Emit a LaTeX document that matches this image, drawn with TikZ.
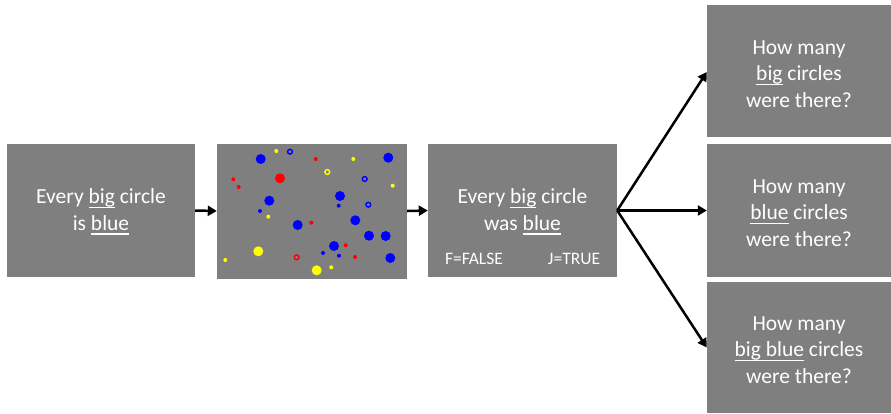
\documentclass[tikz,border=0pt]{standalone}
\usepackage{fontspec}
\setmainfont{Carlito}
\usetikzlibrary{arrows.meta,positioning}
\definecolor{boxgray}{HTML}{7F7F7F}
\definecolor{dotblue}{HTML}{0000FF}
\definecolor{dotred}{HTML}{FF0000}
\definecolor{dotyellow}{HTML}{FFFF00}
\newcommand{\uword}[1]{\setbox0\hbox{#1}\rlap{\rule[-4.5pt]{\wd0}{1.5pt}}\box0\relax}

\begin{document}
\begin{tikzpicture}[x=1pt,y=-1pt,
    panel/.style={shape=rectangle,fill=boxgray,inner sep=0pt},
    words/.style={text=white,inner sep=0pt,align=center,font=\fontsize{21.5}{26.5}\selectfont},
    keys/.style={text=white,inner sep=0pt,anchor=base,font=\fontsize{17.5}{18}\selectfont},
    arr/.style={line width=2.5pt,-{Triangle[length=9pt,width=10pt]}}]

   \useasboundingbox (0,0) rectangle (891,413);

   \node[panel,minimum width=188pt,minimum height=133pt] (1) at (101,210.5) {};
   \node[panel,minimum width=190pt,minimum height=135pt] (2) at (312,211) {};
   \node[panel,minimum width=189pt,minimum height=133pt] (3) at (522.5,210.5) {};
   \node[panel,minimum width=184pt,minimum height=132pt] (4) at (799,71) {};
   \node[panel,minimum width=184pt,minimum height=133pt] (5) at (799,210.5) {};
   \node[panel,minimum width=184pt,minimum height=131pt] (6) at (799,347.5) {};

   \node[words] (t1) at (101,212) {Every \uword{big} circle\\is \uword{blue}};
   \node[words] (t3) at (522.5,212) {Every \uword{big} circle\\was \uword{blue}};
   \node[keys] (f) at (474,264) {F=FALSE};
   \node[keys] (j) at (574,264) {J=TRUE};
   \node[words] (t4) at (799,74) {How many\\\uword{big} circles\\were there?};
   \node[words] (t5) at (799,213) {How many\\\uword{blue} circles\\were there?};
   \node[words] (t6) at (799,350) {How many\\\uword{big blue} circles\\were there?};

   % circles of the display
   \foreach \x/\y in {260.7/159,388.3/157.7,340/196,269.3/200.7,355.3/220.3,297.7/225,369/235.7,385.7/236,334/246,390.3/258}
      \fill[dotblue] (\x,\y) circle (5pt);
   \fill[dotred] (280,178.3) circle (5pt);
   \foreach \x/\y in {258.3/251.3,316.7/270.3}
      \fill[dotyellow] (\x,\y) circle (5pt);
   \foreach \x/\y in {260/211,338.7/205.7,323/253,339/255.7}
      \fill[dotblue] (\x,\y) circle (2pt);
   \foreach \x/\y in {315.7/159,233.3/179.3,238.7/187,311.3/222.7,345.7/245.3,355/257}
      \fill[dotred] (\x,\y) circle (2pt);
   \foreach \x/\y in {276.3/151,353.3/159,392.7/185.7,268.3/216.7,225.3/260,331.3/267.3}
      \fill[dotyellow] (\x,\y) circle (2pt);
   \foreach \x/\y in {290/151.7,364.7/179,368.3/204.7}
      \draw[dotblue,line width=1.4pt] (\x,\y) circle (2.4pt);
   \draw[dotyellow,line width=1.4pt] (327.3,172) circle (2.4pt);
   \draw[dotred,line width=1.4pt] (296.7,257.3) circle (2.4pt);

    \path[arr] (1.east) edge (2.west);
    \path[arr] (2.east) edge (3.west);
    \path[arr] (3.east) edge ([yshift=-1pt]4.west);
    \path[arr] (3.east) edge (5.west);
    \path[arr] (3.east) edge (6.west);

\end{tikzpicture}
\end{document}
